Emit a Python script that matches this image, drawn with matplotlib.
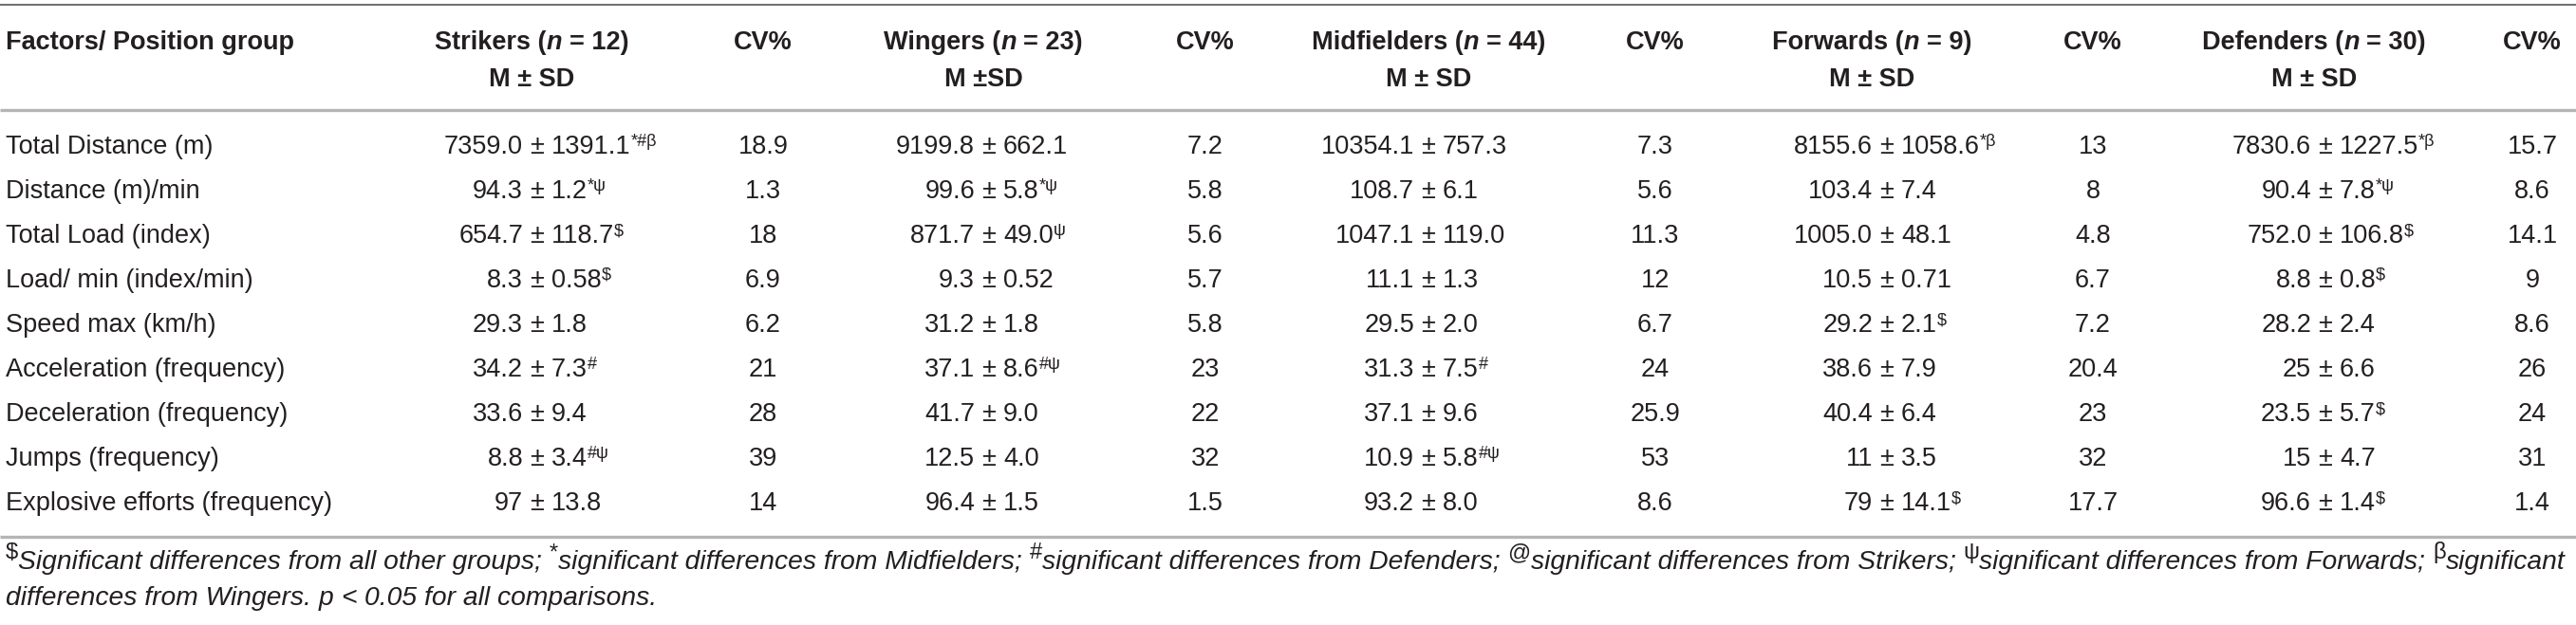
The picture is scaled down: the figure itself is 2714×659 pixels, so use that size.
import matplotlib
matplotlib.use("Agg")
import matplotlib.pyplot as plt
from matplotlib import font_manager

# Table content
factors = ["Total Distance (m)", "Distance (m)/min", "Total Load (index)",
           "Load/ min (index/min)", "Speed max (km/h)", "Acceleration (frequency)",
           "Deceleration (frequency)", "Jumps (frequency)", "Explosive efforts (frequency)"]

groups = ["Strikers", "Wingers", "Midfielders", "Forwards", "Defenders"]
group_n = [12, 23, 44, 9, 30]
group_msd = ["M \u00b1 SD", "M \u00b1SD", "M \u00b1 SD", "M \u00b1 SD", "M \u00b1 SD"]

strikers_mean = ["7359.0", "94.3", "654.7", "8.3", "29.3", "34.2", "33.6", "8.8", "97"]
strikers_sd = ["1391.1", "1.2", "118.7", "0.58", "1.8", "7.3", "9.4", "3.4", "13.8"]
strikers_sig = ["*#\u03b2", "*\u03c8", "$", "$", "", "#", "", "#\u03c8", ""]
strikers_cv = ["18.9", "1.3", "18", "6.9", "6.2", "21", "28", "39", "14"]

wingers_mean = ["9199.8", "99.6", "871.7", "9.3", "31.2", "37.1", "41.7", "12.5", "96.4"]
wingers_sd = ["662.1", "5.8", "49.0", "0.52", "1.8", "8.6", "9.0", "4.0", "1.5"]
wingers_sig = ["", "*\u03c8", "\u03c8", "", "", "#\u03c8", "", "", ""]
wingers_cv = ["7.2", "5.8", "5.6", "5.7", "5.8", "23", "22", "32", "1.5"]

mid_mean = ["10354.1", "108.7", "1047.1", "11.1", "29.5", "31.3", "37.1", "10.9", "93.2"]
mid_sd = ["757.3", "6.1", "119.0", "1.3", "2.0", "7.5", "9.6", "5.8", "8.0"]
mid_sig = ["", "", "", "", "", "#", "", "#\u03c8", ""]
mid_cv = ["7.3", "5.6", "11.3", "12", "6.7", "24", "25.9", "53", "8.6"]

fwd_mean = ["8155.6", "103.4", "1005.0", "10.5", "29.2", "38.6", "40.4", "11", "79"]
fwd_sd = ["1058.6", "7.4", "48.1", "0.71", "2.1", "7.9", "6.4", "3.5", "14.1"]
fwd_sig = ["*\u03b2", "", "", "", "$", "", "", "", "$"]
fwd_cv = ["13", "8", "4.8", "6.7", "7.2", "20.4", "23", "32", "17.7"]

def_mean = ["7830.6", "90.4", "752.0", "8.8", "28.2", "25", "23.5", "15", "96.6"]
def_sd = ["1227.5", "7.8", "106.8", "0.8", "2.4", "6.6", "5.7", "4.7", "1.4"]
def_sig = ["*\u03b2", "*\u03c8", "$", "$", "", "", "$", "", "$"]
def_cv = ["15.7", "8.6", "14.1", "9", "8.6", "26", "24", "31", "1.4"]

means = [strikers_mean, wingers_mean, mid_mean, fwd_mean, def_mean]
sds = [strikers_sd, wingers_sd, mid_sd, fwd_sd, def_sd]
sigs = [strikers_sig, wingers_sig, mid_sig, fwd_sig, def_sig]
cvs = [strikers_cv, wingers_cv, mid_cv, fwd_cv, def_cv]

note1 = [("$", "sup"), ("Significant differences from all other groups; ", "it"),
         ("*", "sup"), ("significant differences from Midfielders; ", "it"),
         ("#", "sup"), ("significant differences from Defenders; ", "it"),
         ("@", "sup"), ("significant differences from Strikers; ", "it"),
         ("\u03c8", "sup"), ("significant differences from Forwards; ", "it"),
         ("\u03b2", "sup"), ("significant", "it")]
note2 = [("differences from Wingers. ", "it"), ("p", "it"), (" < ", "it"),
         ("0.05 for all comparisons.", "it")]

# Helvetica-like face
available = {f.name for f in font_manager.fontManager.ttflist}
FONT = "Liberation Sans" if "Liberation Sans" in available else "DejaVu Sans"
FAM = [FONT, "DejaVu Sans"]

W, H = 2714, 659
fig = plt.figure(figsize=(W / 100, H / 100), dpi=100)
ax = fig.add_axes([0, 0, 1, 1])
ax.set_xlim(0, W)
ax.set_ylim(H, 0)
ax.axis("off")
renderer = fig.canvas.get_renderer()

TXT = "#231f20"
BODY = 19.5
STYLES = {
    "reg": dict(fontsize=BODY),
    "bold": dict(fontsize=BODY, fontweight="bold"),
    "boldit": dict(fontsize=BODY, fontweight="bold", fontstyle="italic"),
    "sup": dict(fontsize=13),
    "it": dict(fontsize=15.5, fontstyle="italic"),
}
RAISE = {"sup": 8}


def props(kind, scale=1.0):
    p = dict(STYLES[kind])
    p["fontsize"] = p["fontsize"] * scale
    p.update(family=FAM, color=TXT, parse_math=False)
    return p


def measure(s, p):
    t = ax.text(0, 0, s, **p)
    w = t.get_window_extent(renderer).width
    t.remove()
    return w


def space_w(p):
    return measure("x x", p) - measure("xx", p)


def layout(runs, scale=1.0):
    items, x = [], 0.0
    for s, kind in runs:
        p = props(kind, scale)
        core = s.strip()
        sw = space_w(p) if core != s else 0
        x += (len(s) - len(s.lstrip())) * sw
        items.append((core, kind, p, x))
        x += measure(core, p) if core else 0
        x += (len(s) - len(s.rstrip())) * sw
    return items, x


def draw_runs(x, y, runs, ha="left", scale=1.0):
    items, total = layout(runs, scale)
    x0 = {"left": x, "center": x - total / 2, "right": x - total}[ha]
    for core, kind, p, dx in items:
        if core:
            ax.text(x0 + dx, y - RAISE.get(kind, 0) * scale, core,
                    ha="left", va="baseline", **p)
    return total


# column positions (pixels)
label_x = 6
pm_x = [566, 1042, 1505, 1988, 2450]
head_x = [560, 1036, 1505, 1972, 2438]
cv_x = [804, 1270, 1744, 2205, 2668]

head_y1, head_y2 = 52, 91
row_y0, row_dy = 162, 47

# rules
ax.plot([0, W], [5, 5], color="#6d6d6d", lw=1.4, solid_capstyle="butt")
ax.plot([0, W], [116, 116], color="#b5b5b5", lw=2.4, solid_capstyle="butt")
ax.plot([0, W], [566, 566], color="#b5b5b5", lw=2.4, solid_capstyle="butt")

# header
draw_runs(label_x, head_y1, [("Factors/ Position group", "bold")])
for g, n, msd, hx, cx in zip(groups, group_n, group_msd, head_x, cv_x):
    draw_runs(hx, head_y1, [(g + " (", "bold"), ("n", "boldit"), (f" = {n})", "bold")],
              ha="center")
    draw_runs(hx, head_y2, [(msd, "bold")], ha="center")
    draw_runs(cx, head_y1, [("CV%", "bold")], ha="center")

# body
preg = props("reg")
pm_w = measure("\u00b1", preg)
gap = space_w(preg)
for i, fac in enumerate(factors):
    y = row_y0 + i * row_dy
    draw_runs(label_x, y, [(fac, "reg")])
    for j in range(len(groups)):
        px = pm_x[j]
        draw_runs(px, y, [("\u00b1", "reg")], ha="center")
        draw_runs(px - pm_w / 2 - gap, y, [(means[j][i], "reg")], ha="right")
        runs = [(sds[j][i], "reg")]
        if sigs[j][i]:
            runs.append((sigs[j][i], "sup"))
        draw_runs(px + pm_w / 2 + gap, y, runs)
        draw_runs(cv_x[j], y, [(cvs[j][i], "reg")], ha="center")

# footnote, scaled so the first line spans the page
_, w1 = layout(note1)
fscale = 2695 / w1
draw_runs(label_x, 600, note1, scale=fscale)
draw_runs(label_x, 638, note2, scale=fscale)

fig.savefig("out.png", dpi=100, facecolor="white")
